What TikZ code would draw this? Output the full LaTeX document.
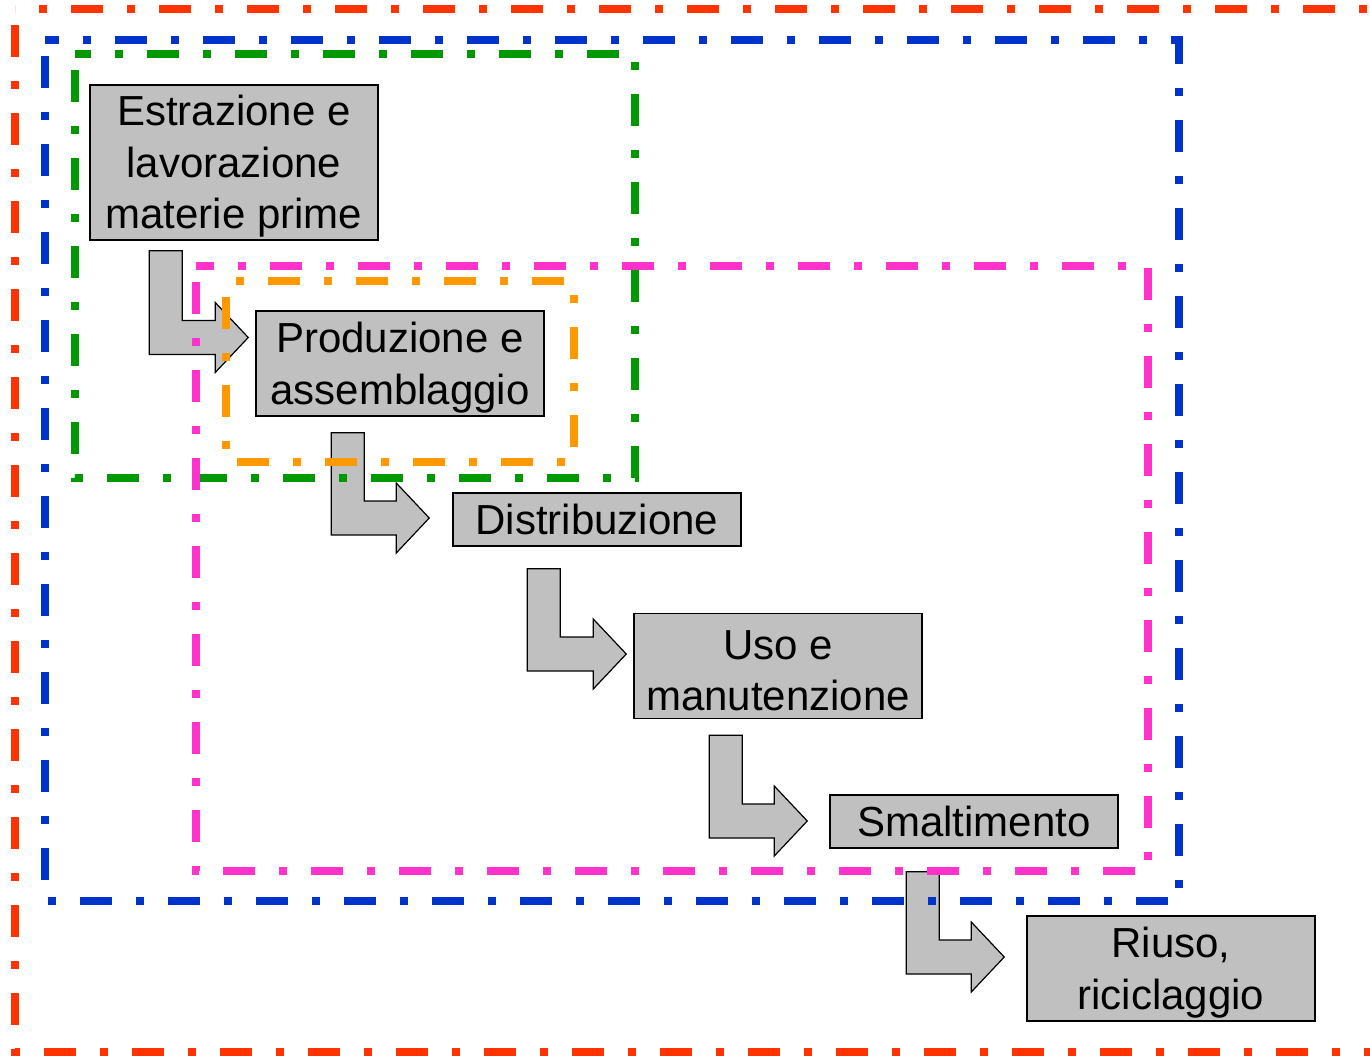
\documentclass[tikz,border=0pt]{standalone}
\usepackage{fontspec}
\setmainfont{Liberation Sans}
\usetikzlibrary{calc}

\definecolor{framered}{HTML}{FF3300}
\definecolor{frameblue}{HTML}{0033CC}
\definecolor{framegreen}{HTML}{009900}
\definecolor{framepink}{HTML}{FF33CC}
\definecolor{frameorange}{HTML}{FF9900}
\definecolor{boxgray}{HTML}{C0C0C0}

% bent block arrow: #1 top left corner, #2 tip
\newcommand{\bentarrow}[2]{%
  \draw[bentarrow] let \p1=#1, \p2=#2 in
    (\x1,\y1) -- (\x1+33pt,\y1) -- (\x1+33pt,\y2+17pt) -- (\x2-33pt,\y2+17pt)
    -- (\x2-33pt,\y2+35pt) -- (\x2,\y2) -- (\x2-33pt,\y2-35pt)
    -- (\x2-33pt,\y2-17pt) -- (\x1,\y2-17pt) -- cycle;}

\begin{document}
\begin{tikzpicture}[x=1pt,y=-1pt,
    phasebox/.style={draw=black, line width=1.5pt, fill=boxgray, minimum width=288pt,
      inner xsep=4pt, inner ysep=0pt, align=center,
      font=\fontsize{42pt}{51.5pt}\selectfont},
    twolines/.style={text height=90pt, minimum height=105pt},
    threelines/.style={text height=141pt, minimum height=155pt},
    bentarrow/.style={draw=black, line width=1.2pt, fill=boxgray, line join=miter},
    frame/.style={line width=8pt, dash pattern=on 32pt off 24pt on 8pt off 24pt,
      dash phase=72pt}]
    \useasboundingbox (0,0) rectangle (1370,1055);

    % phases
    \node[phasebox, threelines] (estr) at (234,162.5) {Estrazione e\\lavorazione\\materie prime};
    \node[phasebox, twolines] (prod) at (400,363.5) {Produzione e\\assemblaggio};
    \node[phasebox, minimum height=53pt] (distr) at (597,519.5) {Distribuzione};
    \node[phasebox, twolines] (uso) at (778,666) {Uso e\\manutenzione};
    \node[phasebox, minimum height=53pt] (smalt) at (974,821.5) {Smaltimento};
    \node[phasebox, twolines] (riuso) at (1171,968.5) {Riuso,\\riciclaggio};

    % arrows
    \bentarrow{($(estr.south west)+(60,10)$)}{($(prod.west)+(-7,-26)$)}
    \bentarrow{($(prod.south west)+(76,16)$)}{($(distr.west)+(-23,-1.5)$)}
    \bentarrow{($(distr.south west)+(75,22)$)}{($(uso.west)+(-7,-12)$)}
    \bentarrow{($(uso.south west)+(76,16)$)}{($(smalt.west)+(-22,-0.5)$)}
    \bentarrow{($(smalt.south west)+(77,23)$)}{($(riuso.west)+(-22,-11.5)$)}

    % frames
    \draw[frame, framered] (15,9) rectangle (1400,1052);
    \draw[frame, frameblue] (45,40) rectangle (1179,901);
    \draw[frame, framegreen] (75,54) rectangle (635,478);
    \draw[frame, framepink] (196,266) rectangle (1148,871);
    \draw[frame, frameorange] (226,281) rectangle (574,462);
\end{tikzpicture}
\end{document}
